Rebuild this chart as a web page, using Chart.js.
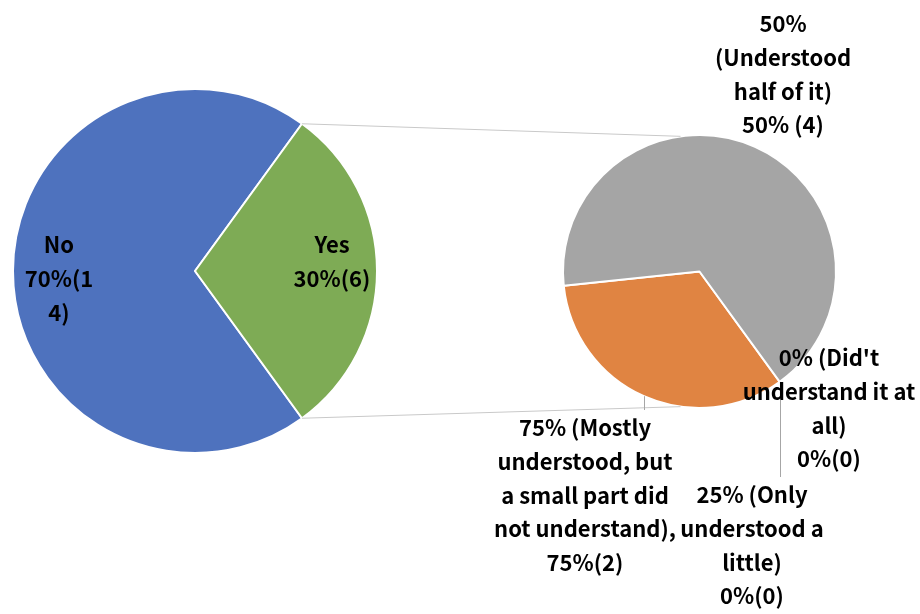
<!DOCTYPE html>
<html>
<head>
<meta charset="utf-8">
<script src="https://cdn.jsdelivr.net/npm/chart.js@4/dist/chart.umd.min.js"></script>
<style>
  html, body { margin: 0; padding: 0; background: #ffffff; }
  #wrap { position: relative; width: 920px; height: 614px; }
  #wrap canvas { position: absolute; left: 0; top: 0; }
</style>
</head>
<body>
<div id="wrap">
  <canvas id="mainPie" width="920" height="614"></canvas>
  <canvas id="subPie" width="920" height="614"></canvas>
</div>
<script>
// first pie: did they answer yes / no
const mainCategories = ['No', 'Yes'];
const mainCounts = [14, 6];
const mainColors = ['#4E72BE', '#7EAB55'];
const mainLabelLines = [
  ['No', '70%(1', '4)'],
  ['Yes', '30%(6)']
];

// second pie: breakdown of the "Yes" answers
const subCategories = [
  '75% (Mostly understood, but a small part did not understand)',
  '50% (Understood half of it)',
  '25% (Only understood a little)',
  "0% (Did't understand it at all)"
];
const subCounts = [2, 4, 0, 0];
const subColors = ['#E08442', '#A5A5A5', '#5B9BD5', '#FFC000'];
const subLabelLines = [
  ['75% (Mostly', 'understood, but', 'a small part did', 'not understand),', '75%(2)'],
  ['50%', '(Understood', 'half of it)', '50% (4)'],
  ['25% (Only', 'understood a', 'little)', '0%(0)'],
  ["0% (Did't", 'understand it at', 'all)', '0%(0)']
];

const FONT = 'bold 22px "Noto Sans CJK SC", "Liberation Sans", sans-serif';
const LINE_H = 33.6;

function pieOptions(padding) {
  return {
    responsive: false,
    animation: false,
    rotation: 144,
    layout: { padding: padding },
    plugins: { legend: { display: false }, tooltip: { enabled: false } }
  };
}

function drawLines(ctx, lines, cx, y0) {
  ctx.save();
  ctx.font = FONT;
  ctx.fillStyle = '#000000';
  ctx.textAlign = 'center';
  ctx.textBaseline = 'middle';
  lines.forEach(function(t, i) {
    ctx.fillText(t, cx, y0 + i * LINE_H);
  });
  ctx.restore();
}

function arcPoint(arc, angle, r) {
  return { x: arc.x + Math.cos(angle) * r, y: arc.y + Math.sin(angle) * r };
}

const mainChart = new Chart(document.getElementById('mainPie'), {
  type: 'pie',
  data: {
    labels: mainCategories,
    datasets: [{
      data: mainCounts,
      backgroundColor: mainColors,
      borderColor: '#ffffff',
      borderWidth: 2
    }]
  },
  options: pieOptions({ left: 12, right: 542, top: 88, bottom: 160 })
});

// connectors, leader lines and all data labels are painted on the top canvas
const overlayPlugin = {
  id: 'pieOfPie',
  afterDraw: function(chart) {
    const ctx = chart.ctx;
    const yesArc = mainChart.getDatasetMeta(0).data[1];
    const subArcs = chart.getDatasetMeta(0).data;
    const sub = subArcs[0];
    const r2 = sub.outerRadius;

    // grey lines joining the split slice with the second pie
    const a = arcPoint(yesArc, yesArc.startAngle, yesArc.outerRadius);
    const b = arcPoint(yesArc, yesArc.endAngle, yesArc.outerRadius);
    const tTop = arcPoint(sub, -98 * Math.PI / 180, r2);
    const tBot = arcPoint(sub, 98 * Math.PI / 180, r2);
    ctx.save();
    ctx.strokeStyle = '#C9C9C9';
    ctx.lineWidth = 1;
    ctx.beginPath();
    ctx.moveTo(a.x, a.y); ctx.lineTo(tTop.x, tTop.y);
    ctx.moveTo(b.x, b.y); ctx.lineTo(tBot.x, tBot.y);
    ctx.stroke();

    // leader lines
    ctx.strokeStyle = '#A6A6A6';
    const orange = subArcs[0];
    const mid = (orange.startAngle + orange.endAngle) / 2;
    const p1 = arcPoint(orange, mid, r2);
    ctx.beginPath();
    ctx.moveTo(Math.round(p1.x) + 0.5, p1.y);
    ctx.lineTo(Math.round(p1.x) + 0.5, 410);
    const zero = subArcs[2];
    const p2 = arcPoint(zero, zero.startAngle, r2);
    ctx.moveTo(Math.round(p2.x) + 0.5, p2.y);
    ctx.lineTo(Math.round(p2.x) + 0.5, 477);
    ctx.stroke();
    ctx.restore();

    // labels
    drawLines(ctx, mainLabelLines[0], 59, 245);
    drawLines(ctx, mainLabelLines[1], 332, 245);
    drawLines(ctx, subLabelLines[0], 585, 428);
    drawLines(ctx, subLabelLines[1], 783, 24);
    drawLines(ctx, subLabelLines[2], 752, 495);
    drawLines(ctx, subLabelLines[3], 829, 358);
  }
};

new Chart(document.getElementById('subPie'), {
  type: 'pie',
  data: {
    labels: subCategories,
    datasets: [{
      data: subCounts,
      backgroundColor: subColors,
      borderColor: '#ffffff',
      borderWidth: 2
    }]
  },
  options: pieOptions({ left: 562, right: 83, top: 134, bottom: 205 }),
  plugins: [overlayPlugin]
});
</script>
</body>
</html>
